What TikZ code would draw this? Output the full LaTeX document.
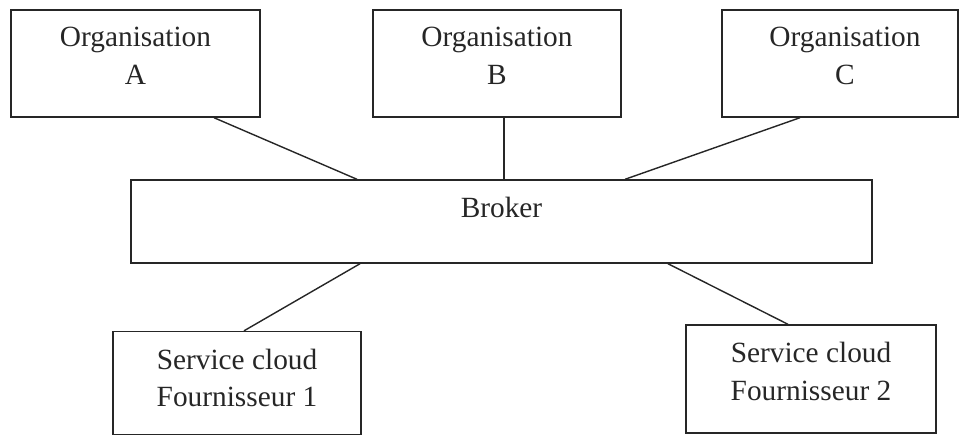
\documentclass[tikz,border=0pt]{standalone}
\usepackage{fontspec}
\setmainfont{Liberation Serif}
\usepackage{tikz}
\colorlet{inkC}{black!85}

\begin{document}
\begin{tikzpicture}[x=0.02cm,y=-0.02cm]
    \tikzstyle{entitybox}=[draw=inkC, line width=0.8pt, inner sep=0pt]
    \tikzstyle{boxtext}=[anchor=north, inner sep=0pt, yshift=-0.35cm, align=center,
      text=inkC, font=\fontsize{16.7}{21.6}\selectfont]
    \tikzstyle{link}=[draw=inkC, line width=0.8pt]

    \useasboundingbox (0,0) rectangle (959,437);

    \node[entitybox, minimum width=4.98cm, minimum height=2.14cm,
      label={[boxtext]north:Organisation\\A}] (orgA) at (135.5,63.5) {};
    \node[entitybox, minimum width=4.96cm, minimum height=2.14cm,
      label={[boxtext]north:Organisation\\B}] (orgB) at (497,63.5) {};
    \node[entitybox, minimum width=4.72cm, minimum height=2.14cm,
      label={[boxtext, xshift=0.1cm]north:Organisation\\C}] (orgC) at (840,63.5) {};

    \node[entitybox, minimum width=14.82cm, minimum height=1.66cm,
      label={[boxtext]north:Broker}] (broker) at (501.5,221.5) {};

    \node[entitybox, minimum width=4.96cm, minimum height=2.06cm,
      label={[boxtext]north:Service cloud\\Fournisseur 1}] (sc1) at (237,383) {};
    \node[entitybox, minimum width=5.00cm, minimum height=2.16cm,
      label={[boxtext]north:Service cloud\\Fournisseur 2}] (sc2) at (811,379) {};

    \draw[link] ([xshift=1.57cm]orgA.south) -- ([xshift=-2.89cm]broker.north);
    \draw[link] ([xshift=0.14cm]orgB.south) -- ([xshift=0.14cm]orgB.south |- broker.north);
    \draw[link] ([xshift=-0.8cm]orgC.south) -- ([xshift=2.47cm]broker.north);
    \draw[link] ([xshift=-2.83cm]broker.south) -- ([xshift=0.14cm]sc1.north);
    \draw[link] ([xshift=3.33cm]broker.south) -- ([xshift=-0.46cm]sc2.north);
\end{tikzpicture}
\end{document}
